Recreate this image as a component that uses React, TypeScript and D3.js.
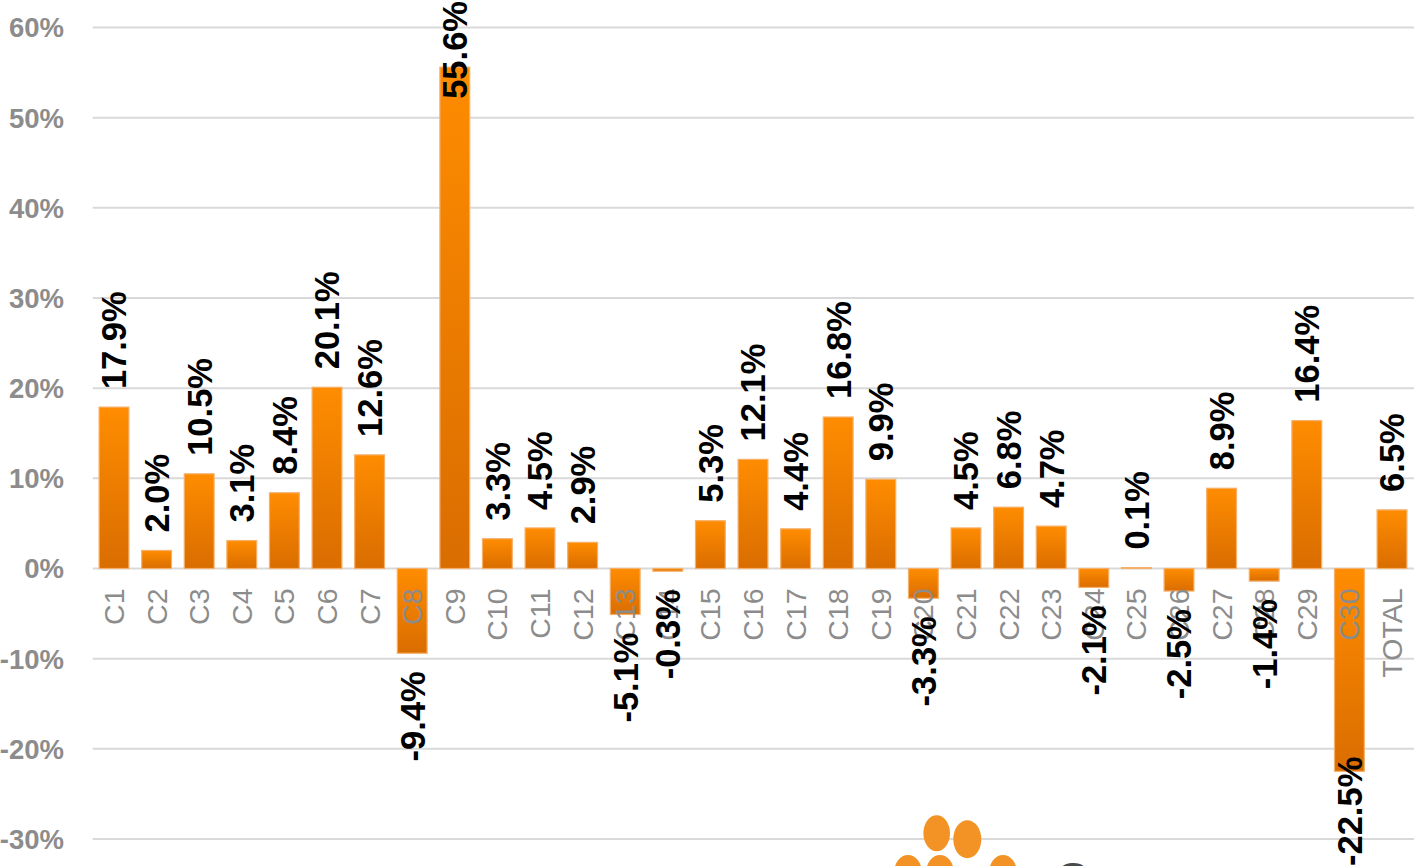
import React from "react";
import * as d3 from "d3";

// Year-on-year change by category
const categories = [
  "C1", "C2", "C3", "C4", "C5", "C6", "C7", "C8", "C9", "C10",
  "C11", "C12", "C13", "C14", "C15", "C16", "C17", "C18", "C19", "C20",
  "C21", "C22", "C23", "C24", "C25", "C26", "C27", "C28", "C29", "C30",
  "TOTAL",
];
const changePct = [
  17.9, 2.0, 10.5, 3.1, 8.4, 20.1, 12.6, -9.4, 55.6, 3.3,
  4.5, 2.9, -5.1, -0.3, 5.3, 12.1, 4.4, 16.8, 9.9, -3.3,
  4.5, 6.8, 4.7, -2.1, 0.1, -2.5, 8.9, -1.4, 16.4, -22.5,
  6.5,
];
const yTicks = [-30, -20, -10, 0, 10, 20, 30, 40, 50, 60];

const W = 1416;
const H = 866;
const FONT = "'Liberation Sans', Arial, sans-serif";
const VALUE_FONT_SIZE = 34.5;
const CAT_FONT_SIZE = 28.5;
const LABEL_GAP = 18;

let measureCtx: CanvasRenderingContext2D | null = null;
function textWidth(s: string, font: string): number {
  if (!measureCtx) measureCtx = document.createElement("canvas").getContext("2d");
  if (!measureCtx) return s.length * 18;
  measureCtx.font = font;
  return measureCtx.measureText(s).width;
}

export default function App() {
  const x = d3
    .scaleBand<string>()
    .domain(categories)
    .range([92.7, 1413.3])
    .paddingInner(0.3)
    .paddingOuter(0.15);
  const y = d3.scaleLinear().domain([-30, 60]).range([839, 27.5]);
  const y0 = y(0);
  const fmt = (v: number) => `${v.toFixed(1)}%`;
  const valueFont = `bold ${VALUE_FONT_SIZE}px ${FONT}`;

  return (
    <svg
      width={W}
      height={H}
      style={{ position: "absolute", left: 0, top: 0, background: "#fff" }}
    >
      <defs>
        <linearGradient id="barFill" x1="0" y1="0" x2="0" y2="1">
          <stop offset="0%" stopColor="#FF8C00" />
          <stop offset="100%" stopColor="#D96D00" />
        </linearGradient>
      </defs>

      {/* gridlines and y tick labels */}
      {yTicks.map((t) => (
        <g key={t}>
          <line
            x1={92.7}
            x2={1414}
            y1={y(t)}
            y2={y(t)}
            stroke="#d9d9d9"
            strokeWidth={2}
          />
          <text
            x={64}
            y={y(t)}
            dy="0.36em"
            textAnchor="end"
            fontFamily={FONT}
            fontWeight="bold"
            fontSize={27.5}
            fill="#8c8c8c"
          >
            {`${t}%`}
          </text>
        </g>
      ))}

      {/* bars */}
      {categories.map((c, i) => {
        const v = changePct[i];
        const top = Math.min(y(v), y0);
        const h = Math.max(Math.abs(y(v) - y0), 0.8);
        return (
          <rect
            key={c}
            x={x(c)}
            y={top}
            width={x.bandwidth()}
            height={h}
            fill="url(#barFill)"
            stroke="#F6B06A"
            strokeWidth={1.2}
          />
        );
      })}

      {/* category labels */}
      {categories.map((c) => {
        const cx = (x(c) as number) + x.bandwidth() / 2;
        const ly = y0 + 20;
        return (
          <text
            key={c}
            transform={`translate(${cx},${ly}) rotate(-90)`}
            dy="0.35em"
            textAnchor="end"
            fontFamily={FONT}
            fontSize={CAT_FONT_SIZE}
            fill="#8c8c8c"
          >
            {c}
          </text>
        );
      })}

      {/* value labels */}
      {categories.map((c, i) => {
        const v = changePct[i];
        const label = fmt(v);
        const len = textWidth(label, valueFont);
        const cx = (x(c) as number) + x.bandwidth() / 2;
        let start: number;
        if (v >= 0) {
          // keep the label inside the plot's top edge
          start = Math.max(y(v) - LABEL_GAP, len + 1);
        } else {
          // keep the label inside the plot's bottom edge
          start = Math.min(y(v) + LABEL_GAP + len, H);
        }
        return (
          <text
            key={c}
            transform={`translate(${cx},${start}) rotate(-90)`}
            dy="0.36em"
            textAnchor="start"
            fontFamily={FONT}
            fontWeight="bold"
            fontSize={VALUE_FONT_SIZE}
            fill="#000"
          >
            {label}
          </text>
        );
      })}

      {/* brand mark at the lower edge */}
      <g fill="#F39325">
        <ellipse cx={936.7} cy={833.3} rx={13.3} ry={18} />
        <ellipse cx={967.3} cy={839.3} rx={14} ry={19} />
        <ellipse cx={908} cy={873} rx={14} ry={18} />
        <ellipse cx={940} cy={873} rx={14} ry={18} />
        <ellipse cx={1003} cy={873} rx={14} ry={18} />
      </g>
      <text
        x={1055}
        y={895}
        fontFamily={FONT}
        fontSize={46}
        fill="#4a4a4a"
      >
        G
      </text>
    </svg>
  );
}
